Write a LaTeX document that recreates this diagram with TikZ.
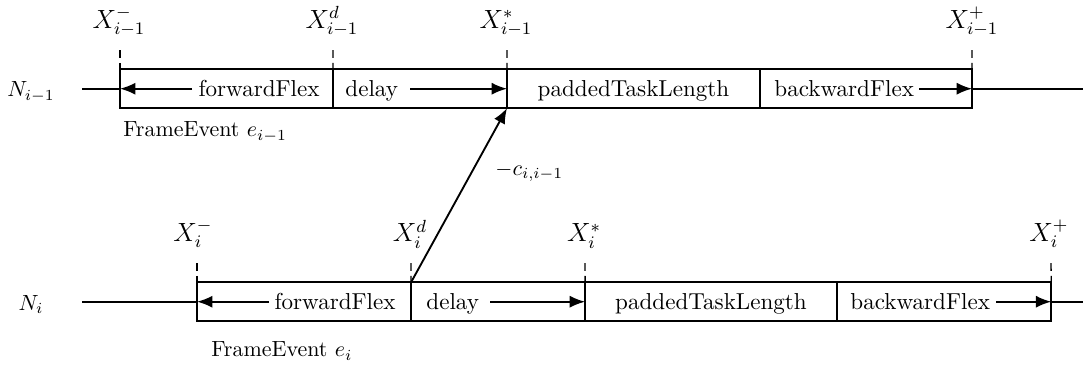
\documentclass[tikz,border=0pt]{standalone}
\usetikzlibrary{arrows.meta}
\begin{document}
\begin{tikzpicture}[x=0.455pt,y=-0.455pt,
  cell/.style={draw, line width=0.85pt, inner sep=0pt, outer sep=0pt, anchor=west, minimum height=17.65pt},
  txt/.style={inner sep=0pt},
  celltxt/.style={inner sep=0pt, font=\fontsize{10.5}{12.6}\selectfont},
  xlbl/.style={inner sep=0pt, anchor=base, font=\large},
  flexarrow/.style={line width=0.85pt, -{Latex[length=7pt,width=5.5pt]}},
  lead/.style={line width=0.85pt},
  tick/.style={line width=0.6pt, dash pattern=on 3.6pt off 2.3pt},
]
\useasboundingbox (0,0) rectangle (1083,365);

% ---------- frame event e_{i-1} ----------
\node[cell, minimum width=96.9pt]  (ffA) at (120,88.7) {};
\node[cell, minimum width=79.2pt]  (dlA) at (ffA.east) {};
\node[cell, minimum width=115.1pt] (ptA) at (dlA.east) {};
\node[cell, minimum width=96.5pt]  (bfA) at (ptA.east) {};

\node[celltxt, anchor=base east] (ffAt) at (320,96.5) {forwardFlex};
\node[celltxt, anchor=base west] (dlAt) at (345,96.5) {delay};
\node[celltxt, anchor=base]      (ptAt) at (633.5,96.5) {paddedTaskLength};
\node[celltxt, anchor=base west] (bfAt) at (774,96.5) {backwardFlex};

\coordinate (ffAs) at (192,88.7);
\coordinate (dlAs) at (410,88.7);
\coordinate (bfAs) at (919,88.7);
\draw[flexarrow] (ffAs) -- (ffA.west);
\draw[flexarrow] (dlAs) -- (dlA.east);
\draw[flexarrow] (bfAs) -- (bfA.east);

\coordinate (lA) at (82,88.7);
\coordinate (rA) at (1083,88.7);
\draw[lead] (lA) -- (ffA.west);
\draw[lead] (bfA.east) -- (rA);

\node[txt, anchor=base] (NA) at (31,96.7) {$N_{i-1}$};
\node[txt, anchor=base west] (feA) at (123,136.7) {FrameEvent $e_{i-1}$};

\coordinate (tA1) at (120,50);
\coordinate (tA2) at (333,50);
\coordinate (tA3) at (507,50);
\coordinate (tA4) at (972,50);
\draw[tick] (tA1) -- (ffA.north west);
\draw[tick] (tA2) -- (dlA.north west);
\draw[tick] (tA3) -- (ptA.north west);
\draw[tick] (tA4) -- (bfA.north east);
\node[xlbl] (xA1) at (119,28.3) {$X^{-}_{i-1}$};
\node[xlbl] (xA2) at (332,28.3) {$X^{d}_{i-1}$};
\node[xlbl] (xA3) at (506,28.3) {$X^{*}_{i-1}$};
\node[xlbl] (xA4) at (972,28.3) {$X^{+}_{i-1}$};

% ---------- frame event e_i ----------
\node[cell, minimum width=97.4pt]  (ffB) at (197,301.7) {};
\node[cell, minimum width=79.2pt]  (dlB) at (ffB.east) {};
\node[cell, minimum width=114.7pt] (ptB) at (dlB.east) {};
\node[cell, minimum width=97.4pt]  (bfB) at (ptB.east) {};

\node[celltxt, anchor=base east] (ffBt) at (396,309.5) {forwardFlex};
\node[celltxt, anchor=base west] (dlBt) at (426,309.5) {delay};
\node[celltxt, anchor=base]      (ptBt) at (711,309.5) {paddedTaskLength};
\node[celltxt, anchor=base west] (bfBt) at (850,309.5) {backwardFlex};

\coordinate (ffBs) at (269,301.7);
\coordinate (dlBs) at (490,301.7);
\coordinate (bfBs) at (996,301.7);
\draw[flexarrow] (ffBs) -- (ffB.west);
\draw[flexarrow] (dlBs) -- (dlB.east);
\draw[flexarrow] (bfBs) -- (bfB.east);

\coordinate (lB) at (82,301.7);
\coordinate (rB) at (1083,301.7);
\draw[lead] (lB) -- (ffB.west);
\draw[lead] (bfB.east) -- (rB);

\node[txt, anchor=base] (NB) at (31,310) {$N_{i}$};
\node[txt, anchor=base west] (feB) at (211,356.7) {FrameEvent $e_{i}$};

\coordinate (tB1) at (197,263);
\coordinate (tB2) at (411,263);
\coordinate (tB3) at (585,263);
\coordinate (tB4) at (1051,263);
\draw[tick] (tB1) -- (ffB.north west);
\draw[tick] (tB2) -- (dlB.north west);
\draw[tick] (tB3) -- (ptB.north west);
\draw[tick] (tB4) -- (bfB.north east);
\node[xlbl] (xB1) at (193,241.7) {$X^{-}_{i}$};
\node[xlbl] (xB2) at (410,241.7) {$X^{d}_{i}$};
\node[xlbl] (xB3) at (584,241.7) {$X^{*}_{i}$};
\node[xlbl] (xB4) at (1049,241.7) {$X^{+}_{i}$};

% ---------- constraint between the two events ----------
\draw[flexarrow] (dlB.north west) -- (ptA.south west);
\node[txt, anchor=base west, font=\fontsize{10.3}{12}\selectfont] (cst) at (495,175) {$-c_{i,i-1}$};
\end{tikzpicture}
\end{document}
